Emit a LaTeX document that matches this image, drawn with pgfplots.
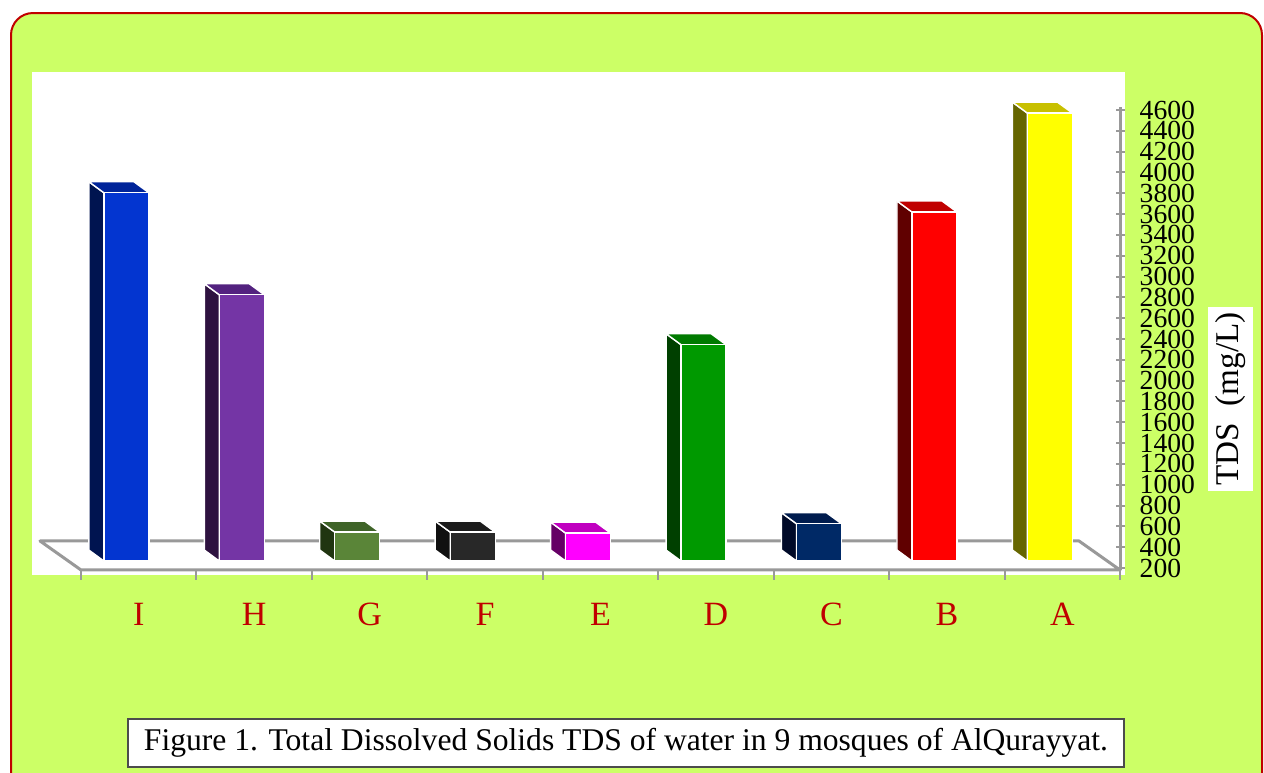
\documentclass[border=0pt]{standalone}
\usepackage{pgfplots}
\pgfplotsset{compat=1.18}
\usepackage{fontspec}
\setmainfont{Liberation Serif}

\definecolor{bggreen}{HTML}{CCFF66}
\definecolor{borderred}{HTML}{C00000}
\definecolor{labelred}{HTML}{C00000}
\definecolor{axisgray}{HTML}{999999}
\definecolor{Ifront}{HTML}{0335D0}\definecolor{Iside}{HTML}{001450}\definecolor{Itop}{HTML}{00249A}
\definecolor{Hfront}{HTML}{7435A5}\definecolor{Hside}{HTML}{2E1240}\definecolor{Htop}{HTML}{53227F}
\definecolor{Gfront}{HTML}{5A8538}\definecolor{Gside}{HTML}{203510}\definecolor{Gtop}{HTML}{3F6428}
\definecolor{Ffront}{HTML}{282828}\definecolor{Fside}{HTML}{101010}\definecolor{Ftop}{HTML}{1C1C1C}
\definecolor{Efront}{HTML}{FF00FF}\definecolor{Eside}{HTML}{660066}\definecolor{Etop}{HTML}{C000C0}
\definecolor{Dfront}{HTML}{009900}\definecolor{Dside}{HTML}{004000}\definecolor{Dtop}{HTML}{007A00}
\definecolor{Cfront}{HTML}{002966}\definecolor{Cside}{HTML}{000A28}\definecolor{Ctop}{HTML}{001C4E}
\definecolor{Bfront}{HTML}{FF0000}\definecolor{Bside}{HTML}{600000}\definecolor{Btop}{HTML}{C00000}
\definecolor{Afront}{HTML}{FFFF00}\definecolor{Aside}{HTML}{666600}\definecolor{Atop}{HTML}{C8C000}

% 3D bar: #1 category index, #2 value (top of front face), #3 front, #4 side, #5 top colour
\newcommand{\tdbar}[5]{%
  \pgfmathsetmacro\xa{#1-0.302}%
  \pgfmathsetmacro\xb{#1+0.088}%
  \pgfmathsetmacro\xc{#1-0.432}%
  \pgfmathsetmacro\xd{#1-0.042}%
  \pgfmathsetmacro\yt{#2+105.7}%
  \edef\doit{%
    \noexpand\addplot[fill=#4, draw=white, line width=0.7pt, line join=round] coordinates {(\xa,267) (\xc,372.7) (\xc,\yt) (\xa,#2)} -- cycle;
    \noexpand\addplot[fill=#5, draw=white, line width=0.7pt, line join=round] coordinates {(\xa,#2) (\xc,\yt) (\xd,\yt) (\xb,#2)} -- cycle;
    \noexpand\addplot[fill=#3, draw=white, line width=0.7pt, line join=round] coordinates {(\xa,267) (\xa,#2) (\xb,#2) (\xb,267)} -- cycle;
  }\doit}

\begin{document}
\begin{tikzpicture}
\begin{scope}[x=0.5pt,y=-0.5pt]
  \fill[white] (0,0) rectangle (1264,772);
  \begin{scope}
    \clip (0,0) rectangle (1264,772);
    \draw[fill=bggreen, draw=borderred, line width=1pt, rounded corners=11pt] (11,13) rectangle (1262,800);
  \end{scope}
  \fill[white] (32,72) rectangle (1125,575);
  \node[fill=white, inner sep=0pt, minimum width=22.5pt, minimum height=92pt] at (1230.5,399) {};
  \node[rotate=90, font=\fontsize{16.6}{18}\selectfont, inner sep=0pt] at (1230.5,399) {TDS\ \ (mg/L)};
  \node[draw=gray!60!black, fill=white, line width=0.6pt, minimum width=498pt, minimum height=24pt, inner sep=0pt,
        font=\fontsize{15.8}{17}\selectfont] at (626,743) {Figure 1. Total Dissolved Solids TDS of water in 9 mosques of AlQurayyat.};
\end{scope}

\begin{axis}[
  at={(16pt,-36pt)}, anchor=north west,
  scale only axis, width=544pt, height=249pt,
  xmin=-0.9246, xmax=8.5, ymin=180.8, ymax=4965,
  axis line style={draw=none},
  clip=false,
  xtick={0,...,8}, xticklabels={I,H,G,F,E,D,C,B,A},
  xtick style={draw=none},
  xticklabel style={text=labelred, font=\fontsize{17}{18}\selectfont, anchor=center, yshift=-22pt},
  ytick={200,400,...,4600},
  ytick pos=right, yticklabel pos=right,
  ytick align=center,
  major tick length=4.5pt,
  ytick style={draw=axisgray, line width=1pt},
  yticklabel style={anchor=west, font=\fontsize{13.8}{14}\selectfont, inner sep=0pt, xshift=7.4pt},
  /pgf/number format/assume math mode=true,
  /pgf/number format/1000 sep={},
]
% floor outline
\addplot[draw=axisgray, line width=1.5pt, line join=round] coordinates {(-0.5,181) (-0.855,459.6) (8.145,459.6) (8.5,181) (-0.5,181)};
% vertical axis line
\addplot[draw=axisgray, line width=1.5pt] coordinates {(8.5,181) (8.5,4630)};
% category separators below the floor
\addplot[draw=axisgray, line width=1pt, unbounded coords=jump] coordinates {
 (-0.5,181) (-0.5,85) (0,nan) (0.5,181) (0.5,85) (1,nan) (1.5,181) (1.5,85) (2,nan)
 (2.5,181) (2.5,85) (3,nan) (3.5,181) (3.5,85) (4,nan) (4.5,181) (4.5,85) (5,nan)
 (5.5,181) (5.5,85) (6,nan) (6.5,181) (6.5,85) (7,nan) (7.5,181) (7.5,85) (8,nan) (8.5,181) (8.5,85)};
% bars
\tdbar{0}{3805}{Ifront}{Iside}{Itop}
\tdbar{1}{2825}{Hfront}{Hside}{Htop}
\tdbar{2}{545}{Gfront}{Gside}{Gtop}
\tdbar{3}{545}{Ffront}{Fside}{Ftop}
\tdbar{4}{535}{Efront}{Eside}{Etop}
\tdbar{5}{2345}{Dfront}{Dside}{Dtop}
\tdbar{6}{625}{Cfront}{Cside}{Ctop}
\tdbar{7}{3620}{Bfront}{Bside}{Btop}
\tdbar{8}{4570}{Afront}{Aside}{Atop}
\end{axis}
\pgfresetboundingbox
\useasboundingbox (0,0) rectangle (632pt,-386pt);
\end{tikzpicture}
\end{document}
